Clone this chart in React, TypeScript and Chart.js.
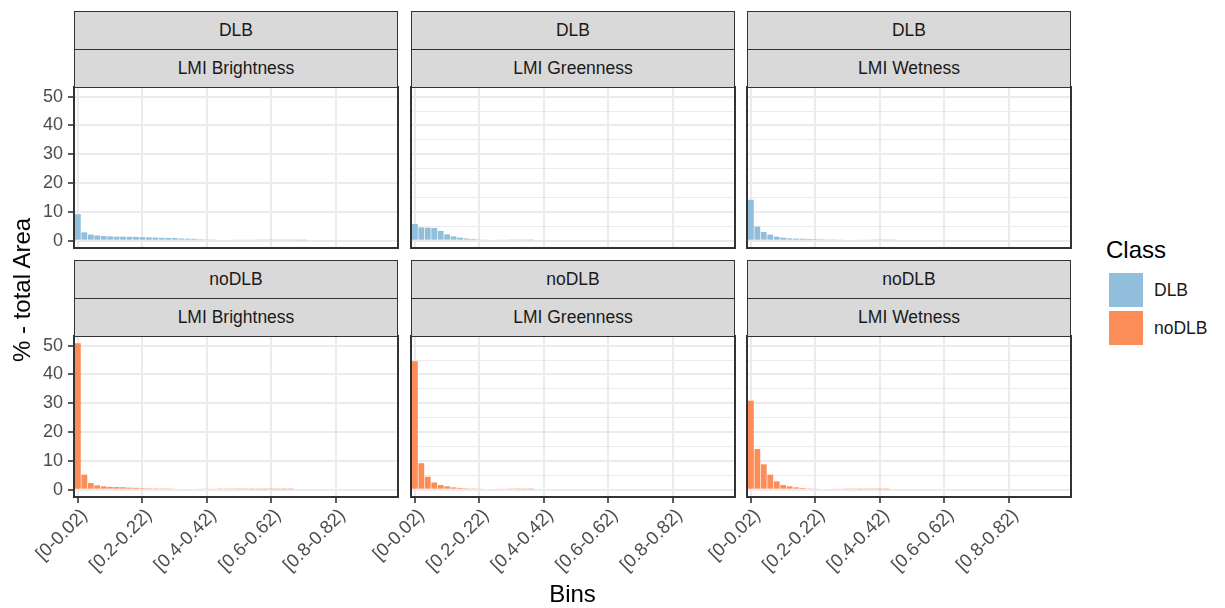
import { useEffect, useRef } from "react";
import { Chart, registerables } from "chart.js";

Chart.register(...registerables);

// Histogram bins (share of total area, %)
const binLabels = [
  "[0-0.02)", "[0.02-0.04)", "[0.04-0.06)", "[0.06-0.08)", "[0.08-0.1)",
  "[0.1-0.12)", "[0.12-0.14)", "[0.14-0.16)", "[0.16-0.18)", "[0.18-0.2)",
  "[0.2-0.22)", "[0.22-0.24)", "[0.24-0.26)", "[0.26-0.28)", "[0.28-0.3)",
  "[0.3-0.32)", "[0.32-0.34)", "[0.34-0.36)", "[0.36-0.38)", "[0.38-0.4)",
  "[0.4-0.42)", "[0.42-0.44)", "[0.44-0.46)", "[0.46-0.48)", "[0.48-0.5)",
  "[0.5-0.52)", "[0.52-0.54)", "[0.54-0.56)", "[0.56-0.58)", "[0.58-0.6)",
  "[0.6-0.62)", "[0.62-0.64)", "[0.64-0.66)", "[0.66-0.68)", "[0.68-0.7)",
  "[0.7-0.72)", "[0.72-0.74)", "[0.74-0.76)", "[0.76-0.78)", "[0.78-0.8)",
  "[0.8-0.82)", "[0.82-0.84)", "[0.84-0.86)", "[0.86-0.88)", "[0.88-0.9)",
  "[0.9-0.92)", "[0.92-0.94)", "[0.94-0.96)", "[0.96-0.98)", "[0.98-1]",
];

const indexNames = ["LMI Brightness", "LMI Greenness", "LMI Wetness"];
const classNames = ["DLB", "noDLB"];
const classColors = ["#91BFDB", "#FC8D59"];

const dlbBrightness = [
  9.2, 2.9, 2.1, 1.8, 1.6, 1.5, 1.4, 1.4, 1.35, 1.3, 1.2, 1.15, 1.1, 1.0, 0.95,
  0.9, 0.75, 0.7, 0.65, 0.5, 0.45, 0.45, 0.35, 0.35, 0.3, 0.3, 0.3, 0.3, 0.25,
  0.25, 0.2, 0.2, 0.2, 0.2, 0.15, 0.15,
];
const dlbGreenness = [
  5.8, 4.6, 4.5, 4.4, 3.4, 2.2, 1.5, 1.05, 0.75, 0.6, 0.45, 0.4, 0.35, 0.3, 0.3,
  0.25, 0.2, 0.2, 0.15,
];
const dlbWetness = [
  14.2, 4.9, 3.0, 2.1, 1.4, 1.05, 0.8, 0.75, 0.7, 0.6, 0.55, 0.5, 0.45, 0.45,
  0.4, 0.35, 0.35, 0.3, 0.3, 0.25, 0.25, 0.2, 0.2,
];
const nodlbBrightness = [
  50.8, 5.2, 2.3, 1.5, 1.15, 0.95, 0.9, 0.85, 0.7, 0.65, 0.55, 0.5, 0.5, 0.45,
  0.45, 0.4, 0.35, 0.35, 0.35, 0.3, 0.3, 0.3, 0.25, 0.25, 0.25, 0.2, 0.2, 0.2,
  0.2, 0.15, 0.15, 0.15, 0.15, 0.15,
];
const nodlbGreenness = [
  44.6, 9.2, 4.5, 2.5, 1.6, 1.15, 0.8, 0.6, 0.5, 0.45, 0.4, 0.35, 0.35, 0.3, 0.3,
  0.25, 0.2, 0.2, 0.15,
];
const nodlbWetness = [
  30.9, 14.1, 8.8, 5.2, 2.9, 1.6, 1.15, 0.8, 0.6, 0.45, 0.4, 0.35, 0.35, 0.3,
  0.3, 0.25, 0.25, 0.2, 0.2, 0.2, 0.15, 0.15,
];

// rows = class, columns = index
const panelValues = [
  [dlbBrightness, dlbGreenness, dlbWetness],
  [nodlbBrightness, nodlbGreenness, nodlbWetness],
];

const FONT = '"Liberation Sans", Arial, Helvetica, sans-serif';

// facet layout (px)
const PANEL_LEFT = [74, 411, 747];
const PANEL_TOP = [87, 336];
const PANEL_W = 324;
const PANEL_H = 161;
const STRIP_H = 38;
const AXIS_W = 74; // room left of each panel for the y axis
const X_AXIS_H = 100; // room below the bottom row for rotated bin labels
const EDGE = 2;
const TICK_LEN = 6;

const yDataMax = Math.max(...panelValues.flat(2));
const yMin = -0.05 * yDataMax;
const yMax = 1.05 * yDataMax;

const panelBorder = {
  id: "panelBorder",
  afterDraw(chart: any) {
    const { ctx, chartArea: a } = chart;
    ctx.save();
    ctx.strokeStyle = "#333333";
    ctx.lineWidth = 2;
    ctx.strokeRect(a.left, a.top, a.right - a.left, a.bottom - a.top);
    ctx.restore();
  },
};

// Bin labels under the bottom row, turned 45° and hung from the top-right corner
const binTickLabels = {
  id: "binTickLabels",
  afterDraw(chart: any, _args: any, opts: any) {
    if (!opts || !opts.show) return;
    const xs = chart.scales.x;
    const { ctx, chartArea: a } = chart;
    ctx.save();
    ctx.font = `18.5px ${FONT}`;
    ctx.fillStyle = "#4D4D4D";
    ctx.textAlign = "right";
    ctx.textBaseline = "top";
    for (const t of xs.ticks) {
      const label = binLabels[Number(t.value)];
      if (!label) continue;
      ctx.save();
      ctx.translate(xs.getPixelForValue(t.value), a.bottom + TICK_LEN + 3);
      ctx.rotate(-Math.PI / 4);
      ctx.fillText(label, 0, 0);
      ctx.restore();
    }
    ctx.restore();
  },
};

function zeroPadding(s: any) {
  s.paddingLeft = 0;
  s.paddingRight = 0;
  s.paddingTop = 0;
  s.paddingBottom = 0;
}

function Panel({ row, col }: { row: number; col: number }) {
  const ref = useRef<HTMLCanvasElement>(null);
  const showX = row === 1;
  const showY = col === 0;
  const width = AXIS_W + PANEL_W + EDGE + 1;
  const height = EDGE + PANEL_H + (showX ? X_AXIS_H : EDGE);
  const left = PANEL_LEFT[col] - AXIS_W;
  const top = PANEL_TOP[row] - EDGE;

  useEffect(() => {
    const values = panelValues[row][col];
    const chart = new Chart(ref.current!, {
      type: "bar",
      data: {
        datasets: [
          {
            label: classNames[row],
            data: values.map((v, i) => ({ x: i, y: v })),
            backgroundColor: classColors[row],
            borderWidth: 0,
            inflateAmount: 0,
            barPercentage: 0.9,
            categoryPercentage: 1,
          } as any,
        ],
      },
      options: {
        responsive: false,
        animation: false,
        events: [],
        layout: {
          padding: { top: EDGE, right: EDGE + 1, bottom: showX ? 0 : EDGE, left: 0 },
        },
        plugins: {
          legend: { display: false },
          tooltip: { enabled: false },
          binTickLabels: { show: showX },
        } as any,
        scales: {
          x: {
            type: "linear",
            min: -0.6,
            max: binLabels.length - 0.4,
            offset: false,
            border: { display: false },
            grid: {
              offset: false,
              color: "#EBEBEB",
              lineWidth: 2,
              drawTicks: showX,
              tickLength: TICK_LEN,
              tickColor: "#333333",
              tickWidth: 1.6,
            },
            ticks: {
              display: false,
              stepSize: 10,
              includeBounds: false,
              autoSkip: false,
            },
            afterFit: (s: any) => {
              s.height = showX ? X_AXIS_H : 0;
              zeroPadding(s);
            },
          },
          y: {
            type: "linear",
            min: yMin,
            max: yMax,
            border: { display: false },
            grid: {
              color: "#EBEBEB",
              lineWidth: (c: any) => (c.tick && c.tick.value % 10 === 0 ? 2 : 1),
              drawTicks: showY,
              tickLength: TICK_LEN,
              tickWidth: 1.6,
              tickColor: (c: any) =>
                c.tick && c.tick.value % 10 === 0 ? "#333333" : "rgba(0,0,0,0)",
            },
            ticks: {
              display: showY,
              stepSize: 5,
              includeBounds: false,
              padding: 5,
              color: "#4D4D4D",
              font: { family: FONT, size: 18 },
              callback: (v: any) => (Number(v) % 10 === 0 ? String(v) : ""),
            },
            afterFit: (s: any) => {
              s.width = AXIS_W;
              zeroPadding(s);
            },
          },
        },
      },
      plugins: [panelBorder, binTickLabels],
    });
    return () => chart.destroy();
  }, [row, col]);

  return (
    <canvas
      ref={ref}
      width={width}
      height={height}
      style={{ position: "absolute", left, top, width, height, display: "block" }}
    />
  );
}

function Strip({ left, top, text }: { left: number; top: number; text: string }) {
  return (
    <div
      style={{
        position: "absolute",
        left,
        top,
        width: PANEL_W,
        height: STRIP_H + 1,
        boxSizing: "border-box",
        border: "1.8px solid #333333",
        background: "#D9D9D9",
        display: "flex",
        alignItems: "center",
        justifyContent: "center",
        fontSize: 17.5,
        color: "#1A1A1A",
        whiteSpace: "nowrap",
      }}
    >
      {text}
    </div>
  );
}

export default function App() {
  const strips: any[] = [];
  const panels: any[] = [];
  for (let r = 0; r < 2; r++) {
    for (let c = 0; c < 3; c++) {
      const top = PANEL_TOP[r] - 2 * STRIP_H;
      strips.push(<Strip key={`s1-${r}-${c}`} left={PANEL_LEFT[c]} top={top} text={classNames[r]} />);
      strips.push(
        <Strip key={`s2-${r}-${c}`} left={PANEL_LEFT[c]} top={top + STRIP_H} text={indexNames[c]} />
      );
      panels.push(<Panel key={`p-${r}-${c}`} row={r} col={c} />);
    }
  }

  const plotMidX = (PANEL_LEFT[0] + PANEL_LEFT[2] + PANEL_W) / 2;

  return (
    <div
      style={{
        position: "fixed",
        left: 0,
        top: 0,
        width: 1225,
        height: 608,
        background: "#FFFFFF",
        fontFamily: FONT,
        overflow: "hidden",
      }}
    >
      {panels}
      {strips}
      <div
        style={{
          position: "absolute",
          left: 22,
          top: 290,
          transform: "translate(-50%, -50%) rotate(-90deg)",
          fontSize: 24,
          color: "#000",
          whiteSpace: "nowrap",
        }}
      >
        % - total Area
      </div>
      <div
        style={{
          position: "absolute",
          left: plotMidX,
          top: 594,
          transform: "translate(-50%, -50%)",
          fontSize: 24,
          color: "#000",
          whiteSpace: "nowrap",
        }}
      >
        Bins
      </div>
      <div style={{ position: "absolute", left: 1106, top: 236, fontSize: 24, color: "#000", lineHeight: "28px" }}>
        Class
      </div>
      {classNames.map((name, i) => (
        <div key={name}>
          <div
            style={{
              position: "absolute",
              left: 1109,
              top: 273 + i * 38,
              width: 34,
              height: 34,
              background: classColors[i],
            }}
          />
          <div
            style={{
              position: "absolute",
              left: 1154,
              top: 290 + i * 38,
              transform: "translateY(-50%)",
              fontSize: 17.5,
              color: "#1A1A1A",
              whiteSpace: "nowrap",
            }}
          >
            {name}
          </div>
        </div>
      ))}
    </div>
  );
}
